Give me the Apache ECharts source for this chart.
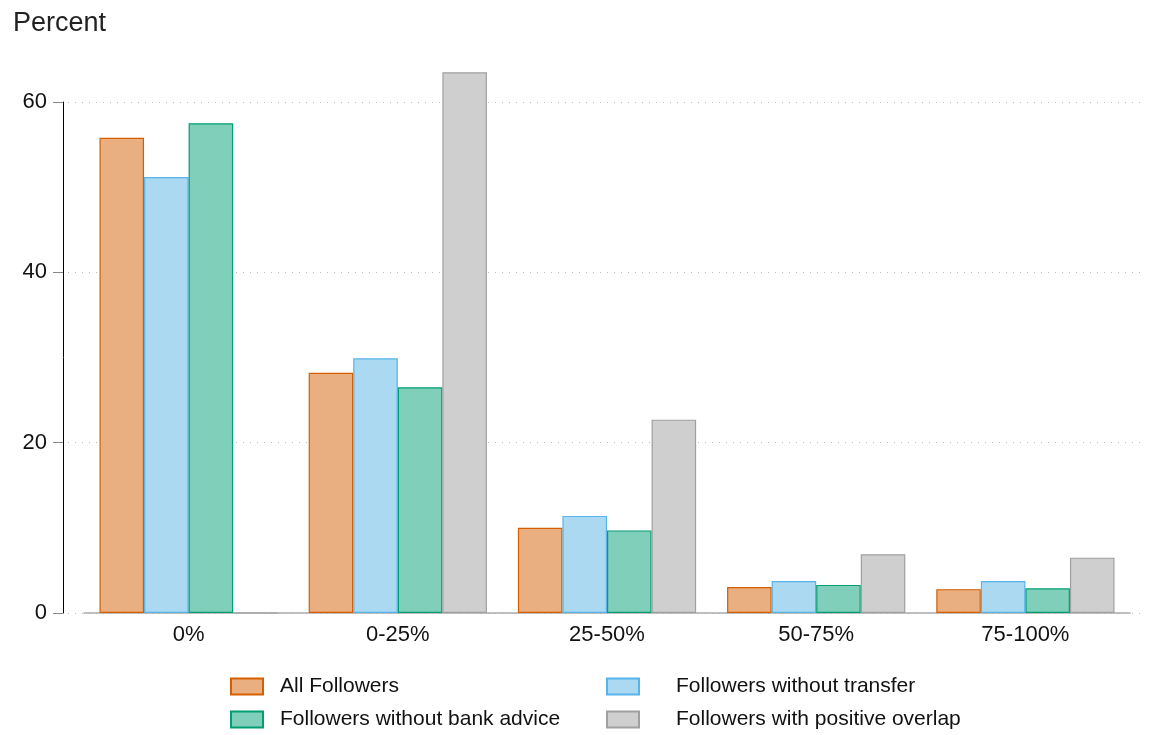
<!DOCTYPE html>
<html><head><meta charset="utf-8">
<script src="https://cdn.jsdelivr.net/npm/echarts@6/dist/echarts.min.js"></script>
<style>html,body{margin:0;padding:0;background:#fff}#c{width:1149px;height:735px}</style>
</head><body><div id="c"></div>
<script>
const categories = ['0%', '0-25%', '25-50%', '50-75%', '75-100%'];
const allFollowers = [55.8, 28.2, 10.0, 3.05, 2.8];
const withoutTransfer = [51.2, 29.9, 11.4, 3.75, 3.75];
const withoutBankAdvice = [57.5, 26.5, 9.7, 3.3, 2.9];
const positiveOverlap = [0, 63.5, 22.7, 6.9, 6.5];
const yTicks = [0, 20, 40, 60];

const font = 'Liberation Sans, Arial, Helvetica, sans-serif';
const chart = echarts.init(document.getElementById('c'));
const mk = (name, data, fill, border) => ({
  name, type: 'bar', data, xAxisIndex: 1, yAxisIndex: 1, clip: false,
  barGap: '0%', barCategoryGap: '14.8%',
  itemStyle: { color: fill, borderColor: border, borderWidth: 1.2 }
});
const legendCommon = {
  orient: 'vertical', top: 676, height: 120, width: 500, padding: 0, itemWidth: 32, itemHeight: 16, itemGap: 12,
  icon: 'rect', itemStyle: { borderWidth: 2 }
};
chart.setOption({
  animation: false,
  textStyle: { fontFamily: font },
  title: { text: 'Percent', left: 8, top: 5, textStyle: { fontSize: 27, fontWeight: 'normal', color: '#222', fontFamily: font } },
  grid: [
    { left: 68, right: 9, top: 102, bottom: 122 },
    { left: 84, right: 19, top: 102, bottom: 122 }
  ],
  xAxis: [
    { type: 'category', gridIndex: 0, data: categories, show: false },
    { type: 'category', gridIndex: 1, data: categories,
      axisLine: { show: true, lineStyle: { color: '#aaa', width: 1.5 } },
      axisTick: { show: false },
      axisLabel: { fontSize: 22, color: '#111', margin: 11 } }
  ],
  yAxis: [
    { type: 'value', gridIndex: 0, min: 0, max: 60, interval: 20,
      axisLine: { show: false }, axisTick: { show: false }, axisLabel: { show: false },
      splitLine: { show: true, lineStyle: { color: '#bbb', type: [1, 6], width: 1 } } },
    { type: 'value', gridIndex: 1, min: yTicks[0], max: yTicks[yTicks.length - 1], interval: 20, offset: 21,
      axisLine: { show: true, lineStyle: { color: '#000', width: 1 } },
      axisTick: { show: true, length: 10, lineStyle: { color: '#888' } },
      axisLabel: { fontSize: 22, color: '#111', margin: 16 },
      splitLine: { show: false } }
  ],
  legend: [
    Object.assign({ data: ['All Followers', 'Followers without bank advice'], left: 230,
      textStyle: { fontSize: 21, lineHeight: 16, color: '#111', padding: [0, 0, 0, 12] } }, legendCommon),
    Object.assign({ data: ['Followers without transfer', 'Followers with positive overlap'], left: 606,
      textStyle: { fontSize: 21, lineHeight: 16, color: '#111', padding: [0, 0, 0, 32] } }, legendCommon)
  ],
  series: [
    mk('All Followers', allFollowers, '#E9AF80', '#D55E00'),
    mk('Followers without transfer', withoutTransfer, '#ABD9F2', '#56B4E9'),
    mk('Followers without bank advice', withoutBankAdvice, '#80CFBA', '#009E73'),
    mk('Followers with positive overlap', positiveOverlap, '#CFCFCF', '#A0A0A0')
  ]
});
</script></body></html>
